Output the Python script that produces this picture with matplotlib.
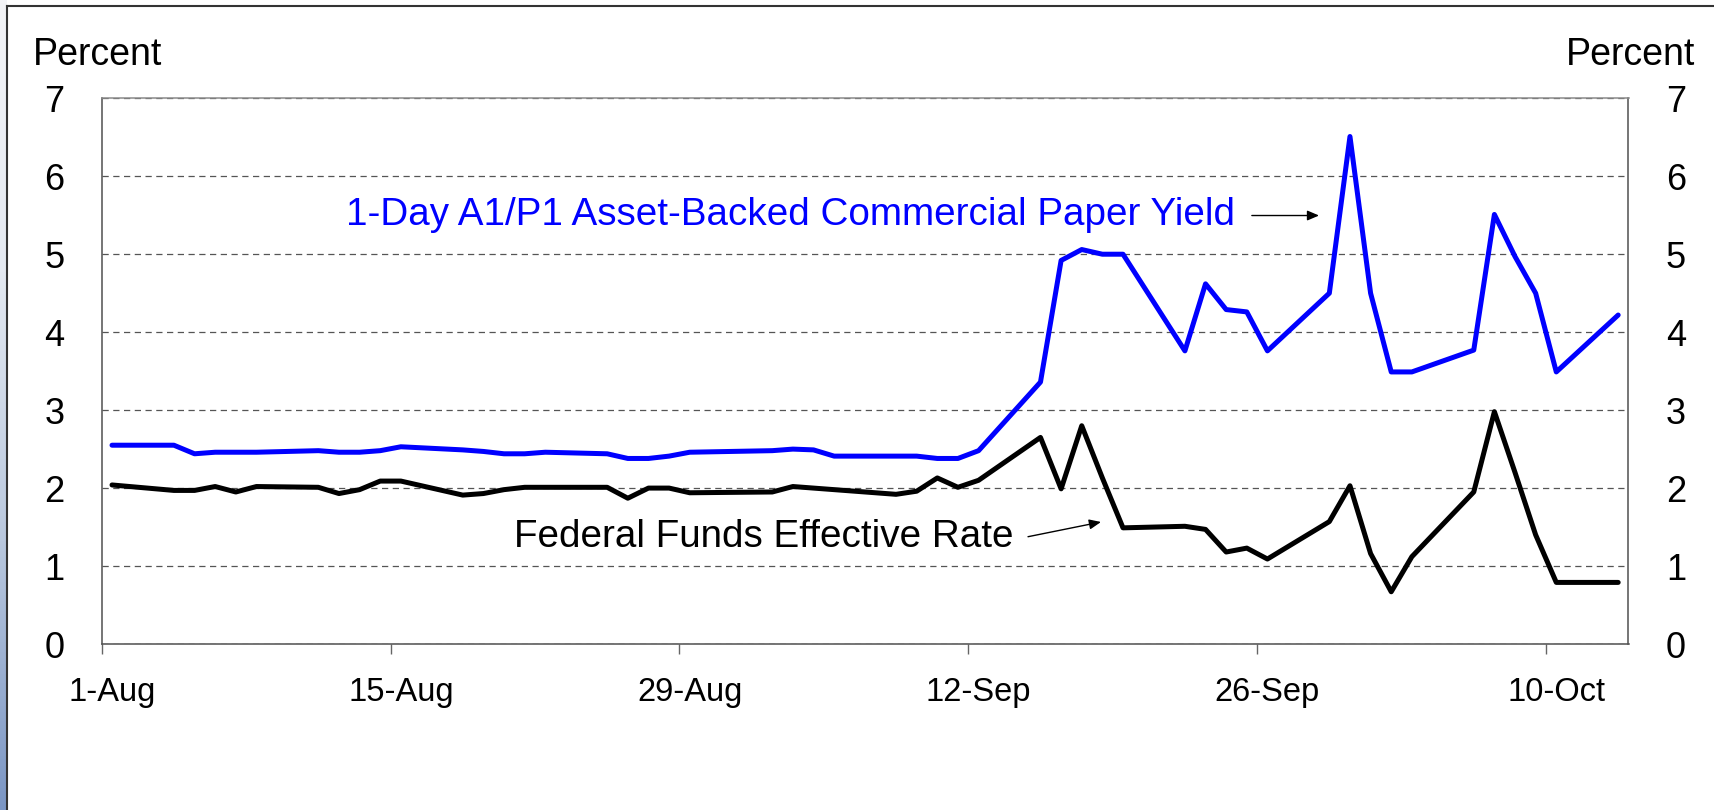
import numpy as np
import pandas as pd
import matplotlib
matplotlib.use('Agg')
import matplotlib.pyplot as plt
from matplotlib.lines import Line2D
from matplotlib.colors import LinearSegmentedColormap

plt.rcParams['font.family'] = ['Liberation Sans', 'DejaVu Sans']

# business days, Aug 1 - Oct 13, 2008
dates = ['2008-08-01', '2008-08-04', '2008-08-05', '2008-08-06', '2008-08-07', '2008-08-08',
         '2008-08-11', '2008-08-12', '2008-08-13', '2008-08-14', '2008-08-15',
         '2008-08-18', '2008-08-19', '2008-08-20', '2008-08-21', '2008-08-22',
         '2008-08-25', '2008-08-26', '2008-08-27', '2008-08-28', '2008-08-29',
         '2008-09-02', '2008-09-03', '2008-09-04', '2008-09-05',
         '2008-09-08', '2008-09-09', '2008-09-10', '2008-09-11', '2008-09-12',
         '2008-09-15', '2008-09-16', '2008-09-17', '2008-09-18', '2008-09-19',
         '2008-09-22', '2008-09-23', '2008-09-24', '2008-09-25', '2008-09-26',
         '2008-09-29', '2008-09-30', '2008-10-01', '2008-10-02', '2008-10-03',
         '2008-10-06', '2008-10-07', '2008-10-08', '2008-10-09', '2008-10-10',
         '2008-10-13']

abcp = [2.55, 2.55, 2.44, 2.46, 2.46, 2.46,
        2.48, 2.46, 2.46, 2.48, 2.53,
        2.49, 2.47, 2.44, 2.44, 2.46,
        2.44, 2.38, 2.38, 2.41, 2.46,
        2.48, 2.50, 2.49, 2.41,
        2.41, 2.41, 2.38, 2.38, 2.48,
        3.36, 4.92, 5.06, 5.00, 5.00,
        3.76, 4.62, 4.29, 4.26, 3.76,
        4.50, 6.51, 4.50, 3.49, 3.49,
        3.77, 5.51, 4.97, 4.50, 3.49,
        4.22]

fedfunds = [2.04, 1.97, 1.97, 2.02, 1.95, 2.02,
            2.01, 1.93, 1.98, 2.09, 2.09,
            1.91, 1.93, 1.98, 2.01, 2.01,
            2.01, 1.87, 2.00, 2.00, 1.94,
            1.95, 2.02, 2.00, 1.98,
            1.92, 1.96, 2.13, 2.01, 2.10,
            2.65, 1.99, 2.80, 2.13, 1.49,
            1.51, 1.47, 1.18, 1.23, 1.09,
            1.57, 2.03, 1.16, 0.67, 1.12,
            1.95, 2.98, 2.20, 1.40, 0.79,
            0.79]

tick_dates = ['2008-08-01', '2008-08-15', '2008-08-29', '2008-09-12', '2008-09-26', '2008-10-10']
tick_labels = ['1-Aug', '15-Aug', '29-Aug', '12-Sep', '26-Sep', '10-Oct']
y_ticks = [0, 1, 2, 3, 4, 5, 6, 7]

W, H = 1715, 810
fig = plt.figure(figsize=(W / 100, H / 100), dpi=100)

# slide background strip on the left + frame
strip = fig.add_axes([0, 0, 7 / W, 1])
cmap = LinearSegmentedColormap.from_list('bg', ['#f3f4f7', '#e4e9f1', '#b9c8de', '#7b96c4'])
strip.imshow(np.linspace(0, 1, 256).reshape(-1, 1), aspect='auto', cmap=cmap,
             extent=[0, 1, 0, 1], origin='upper')
strip.axis('off')
fig.add_artist(Line2D([7.3 / W, 7.3 / W], [0, 1 - 5.7 / H], transform=fig.transFigure,
                      color='#333333', lw=1.5))
fig.add_artist(Line2D([7.3 / W, 1], [1 - 5.7 / H, 1 - 5.7 / H], transform=fig.transFigure,
                      color='#333333', lw=1.5))

ax = fig.add_axes([101.7 / W, 1 - 644 / H, (1628.5 - 101.7) / W, (644 - 98.3) / H])

# Excel "between tick marks": points sit in the middle of each day
x = pd.to_datetime(dates) + pd.Timedelta(hours=12)
ax.plot(x, abcp, color='#0000ff', lw=3.6, solid_capstyle='round')
ax.plot(x, fedfunds, color='black', lw=3.6, solid_capstyle='round')

ax.set_xlim(pd.Timestamp('2008-08-01'), pd.Timestamp('2008-10-14'))
ax.set_ylim(0, 7)

ax.set_xticks(pd.to_datetime(tick_dates))
ax.set_xticklabels([])
ax.set_xticks(pd.to_datetime(tick_dates) + pd.Timedelta(hours=12), minor=True)
ax.set_xticklabels(tick_labels, minor=True)
ax.tick_params(axis='x', which='major', direction='out', length=7.2, width=1, color='#666666')
ax.tick_params(axis='x', which='minor', length=0, pad=24, labelsize=23.5)

ax.set_yticks(y_ticks)
ax.tick_params(axis='y', left=False, right=False, labelleft=True, labelright=True,
               labelsize=26, pad=23.5)

ax.grid(axis='y', color='#555555', lw=0.9, linestyle=(0, (5, 3.6)))
ax.set_axisbelow(True)
for side in ['left', 'right', 'bottom']:
    ax.spines[side].set_color('#505050')
    ax.spines[side].set_linewidth(1.1)
ax.spines['top'].set_color('#8a8a8a')
ax.spines['top'].set_linewidth(1.1)

fig.text(33 / W, 1 - 65 / H, 'Percent', fontsize=27, va='baseline', ha='left')
fig.text(1566 / W, 1 - 65 / H, 'Percent', fontsize=27, va='baseline', ha='left')

ax.text(0.16, 0.7678, '1-Day A1/P1 Asset-Backed Commercial Paper Yield', color='#0000ff',
        fontsize=27.8, transform=ax.transAxes, va='baseline', ha='left')
ax.text(0.270, 0.1783, 'Federal Funds Effective Rate', color='black',
        fontsize=27.8, transform=ax.transAxes, va='baseline', ha='left')

arrow = dict(arrowstyle='-|>,head_length=0.35,head_width=0.15', color='black', lw=1.0,
             mutation_scale=20, shrinkA=0, shrinkB=0)
ax.annotate('', xy=(0.7973, 0.7852), xytext=(0.7533, 0.7852), xycoords='axes fraction',
            textcoords='axes fraction', arrowprops=arrow)
ax.annotate('', xy=(0.6545, 0.2236), xytext=(0.6067, 0.1966), xycoords='axes fraction',
            textcoords='axes fraction', arrowprops=arrow)

fig.savefig('out.png', dpi=100)
